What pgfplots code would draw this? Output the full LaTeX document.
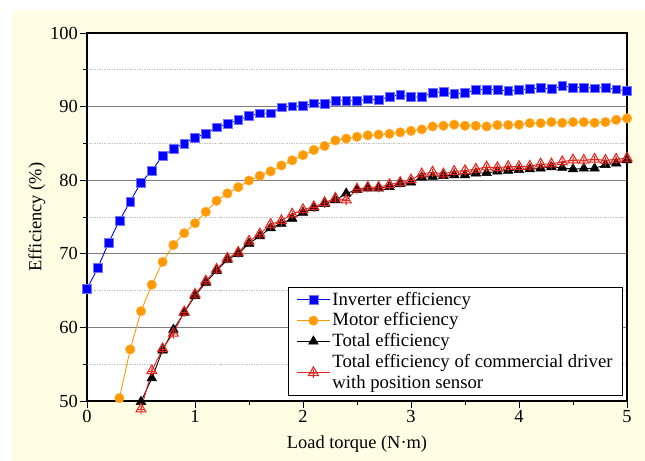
\documentclass[border=0pt]{standalone}
\usepackage{pgfplots}
\pgfplotsset{compat=1.18}
\usepackage{fontspec}
\setmainfont{Liberation Serif}

\definecolor{panel}{RGB}{255,253,228}
\definecolor{invblue}{RGB}{0,0,255}
\definecolor{motorange}{RGB}{255,153,0}
\definecolor{comred}{RGB}{228,34,26}
\definecolor{majgrid}{RGB}{130,125,125}
\definecolor{mingrid}{RGB}{195,195,195}

% open triangle with a small cross inside
\pgfdeclareplotmark{tricross}{%
  \pgfpathmoveto{\pgfqpoint{0pt}{\pgfplotmarksize}}%
  \pgfpathlineto{\pgfqpointpolar{210}{\pgfplotmarksize}}%
  \pgfpathlineto{\pgfqpointpolar{330}{\pgfplotmarksize}}%
  \pgfpathclose
  \pgfpathmoveto{\pgfqpoint{0pt}{0.55\pgfplotmarksize}}%
  \pgfpathlineto{\pgfqpoint{0pt}{-0.9\pgfplotmarksize}}%
  \pgfpathmoveto{\pgfqpoint{-0.55\pgfplotmarksize}{-0.1\pgfplotmarksize}}%
  \pgfpathlineto{\pgfqpoint{0.55\pgfplotmarksize}{-0.1\pgfplotmarksize}}%
  \pgfusepathqstroke}

\newcommand{\chartfont}{\fontsize{18.5}{21}\selectfont}
\newcommand{\legendfont}{\fontsize{18.8}{21}\selectfont}

\begin{document}
\chartfont
\begin{tikzpicture}
  % page background
  \fill[white] (-87bp,-60bp) rectangle (558bp,401bp);
  \fill[panel] (-75bp,-60bp) rectangle (558bp,391bp);
  \begin{axis}[
    at={(0,0)}, anchor=south west,
    width=540bp, height=368bp, scale only axis,
    xmin=0, xmax=5, ymin=50, ymax=100,
    xtick={0,1,2,3,4,5}, ytick={50,60,70,80,90,100},
    minor x tick num=1, minor y tick num=1,
    tick pos=left, tick align=outside,
    major tick length=7bp, minor tick length=4bp,
    every tick/.style={black, line width=0.9pt},
    axis line style={black, line width=1.2pt},
    axis background/.style={fill=white},
    ymajorgrids, yminorgrids,
    major grid style={majgrid, line width=0.8pt},
    minor grid style={mingrid, line width=0.7pt, dash pattern=on 1.5pt off 1pt},
    /pgf/number format/assume math mode=true,
    ticklabel style={font=\chartfont},
    xticklabel style={inner sep=2bp},
    yticklabel style={inner sep=2bp},
    label style={font=\chartfont},
    xlabel={Load torque (N·m)},
    ylabel={Efficiency (\%)},
    xlabel style={at={(axis description cs:0.5,-0.117)}, anchor=center},
    ylabel style={at={(axis description cs:-0.0926,0.5)}, anchor=center},
    clip=false,
    legend cell align=left,
    legend style={
      at={(axis description cs:0.9926,0.0136)}, anchor=south east,
      draw=black, line width=0.9pt, fill=white,
      font=\legendfont,
      cells={align=left},
      inner xsep=8bp, inner ysep=2.5bp,
      row sep=0.8bp,
    },
    legend image code/.code={%
      \draw[mark repeat=2, mark phase=2, #1]
        plot coordinates {(0bp,0bp) (16.5bp,0bp) (33bp,0bp)};},
  ]
    \addplot[invblue, line width=0.9pt, mark=square*,
      mark size=4.4bp, mark options={fill=invblue, draw=invblue!55, line width=0.6pt}]
      coordinates {
      (0,65.2) (0.1,68.1) (0.2,71.5) (0.3,74.5) (0.4,77.1) (0.5,79.7)
      (0.6,81.3) (0.7,83.3) (0.8,84.25) (0.9,85.0) (1.0,85.8) (1.1,86.3)
      (1.2,87.2) (1.3,87.65) (1.4,88.2) (1.5,88.7) (1.6,89.1) (1.7,89.1)
      (1.8,89.9) (1.9,90.05) (2.0,90.1) (2.1,90.45) (2.2,90.4) (2.3,90.8)
      (2.4,90.8) (2.5,90.8) (2.6,91.0) (2.7,90.9) (2.8,91.35) (2.9,91.6)
      (3.0,91.3) (3.1,91.3) (3.2,91.9) (3.3,92.0) (3.4,91.7) (3.5,91.85)
      (3.6,92.3) (3.7,92.3) (3.8,92.3) (3.9,92.1) (4.0,92.3) (4.1,92.4)
      (4.2,92.55) (4.3,92.4) (4.4,92.8) (4.5,92.6) (4.6,92.6) (4.7,92.5)
      (4.8,92.6) (4.9,92.35) (5.0,92.1)};
    \addlegendentry{Inverter efficiency}

    \addplot[motorange, line width=0.9pt, mark=*,
      mark size=4.7bp, mark options={fill=motorange, draw=motorange!80!white, line width=0.6pt}]
      coordinates {
      (0.3,50.4) (0.4,57.0) (0.5,62.2) (0.6,65.8) (0.7,68.9) (0.8,71.2)
      (0.9,72.8) (1.0,74.15) (1.1,75.7) (1.2,77.2) (1.3,78.2) (1.4,79.05)
      (1.5,79.95) (1.6,80.6) (1.7,81.2) (1.8,82.0) (1.9,82.7) (2.0,83.4)
      (2.1,84.1) (2.2,84.65) (2.3,85.4) (2.4,85.65) (2.5,85.9) (2.6,86.1)
      (2.7,86.2) (2.8,86.3) (2.9,86.5) (3.0,86.7) (3.1,86.9) (3.2,87.3)
      (3.3,87.4) (3.4,87.55) (3.5,87.4) (3.6,87.4) (3.7,87.3) (3.8,87.5)
      (3.9,87.5) (4.0,87.55) (4.1,87.75) (4.2,87.75) (4.3,87.9) (4.4,87.8)
      (4.5,87.9) (4.6,87.9) (4.7,87.8) (4.8,87.9) (4.9,88.2) (5.0,88.4)};
    \addlegendentry{Motor efficiency}

    \addplot[black, line width=0.9pt, mark=triangle*,
      mark size=5.6bp, mark options={fill=black, line width=0.5pt}]
      coordinates {
      (0.5,49.9) (0.6,53.1) (0.7,56.9) (0.8,59.7) (0.9,62.0) (1.0,64.3)
      (1.1,66.1) (1.2,67.7) (1.3,69.2) (1.4,70.0) (1.5,71.4) (1.6,72.4)
      (1.7,73.5) (1.8,74.1) (1.9,74.8) (2.0,75.6) (2.1,76.2) (2.2,76.8)
      (2.3,77.3) (2.4,78.2) (2.5,78.7) (2.6,78.9) (2.7,78.9) (2.8,79.1)
      (2.9,79.5) (3.0,79.7) (3.1,80.4) (3.2,80.5) (3.3,80.6) (3.4,80.7)
      (3.5,80.7) (3.6,80.95) (3.7,81.0) (3.8,81.2) (3.9,81.3) (4.0,81.4)
      (4.1,81.5) (4.2,81.6) (4.3,81.8) (4.4,81.7) (4.5,81.5) (4.6,81.6)
      (4.7,81.6) (4.8,82.1) (4.9,82.3) (5.0,82.75)};
    \addlegendentry{Total efficiency}

    \addplot[comred, line width=0.9pt, mark=tricross,
      mark size=5.8bp, mark options={line width=1pt}]
      coordinates {
      (0.5,48.9) (0.6,54.1) (0.7,57.1) (0.8,59.2) (0.9,62.1) (1.0,64.5)
      (1.1,66.3) (1.2,67.9) (1.3,69.4) (1.4,70.2) (1.5,71.7) (1.6,72.7)
      (1.7,74.0) (1.8,74.5) (1.9,75.4) (2.0,76.0) (2.1,76.4) (2.2,76.95)
      (2.3,77.55) (2.4,77.3) (2.5,78.8) (2.6,79.05) (2.7,79.05) (2.8,79.4)
      (2.9,79.7) (3.0,80.05) (3.1,80.85) (3.2,81.1) (3.3,80.85) (3.4,81.2)
      (3.5,81.3) (3.6,81.5) (3.7,81.8) (3.8,81.7) (3.9,81.85) (4.0,81.85)
      (4.1,81.9) (4.2,82.2) (4.3,82.2) (4.4,82.5) (4.5,82.75) (4.6,82.7)
      (4.7,82.85) (4.8,82.7) (4.9,82.85) (5.0,83.0)};
    \addlegendentry{Total efficiency of commercial driver\\with position sensor}
  \end{axis}
\end{tikzpicture}
\end{document}
